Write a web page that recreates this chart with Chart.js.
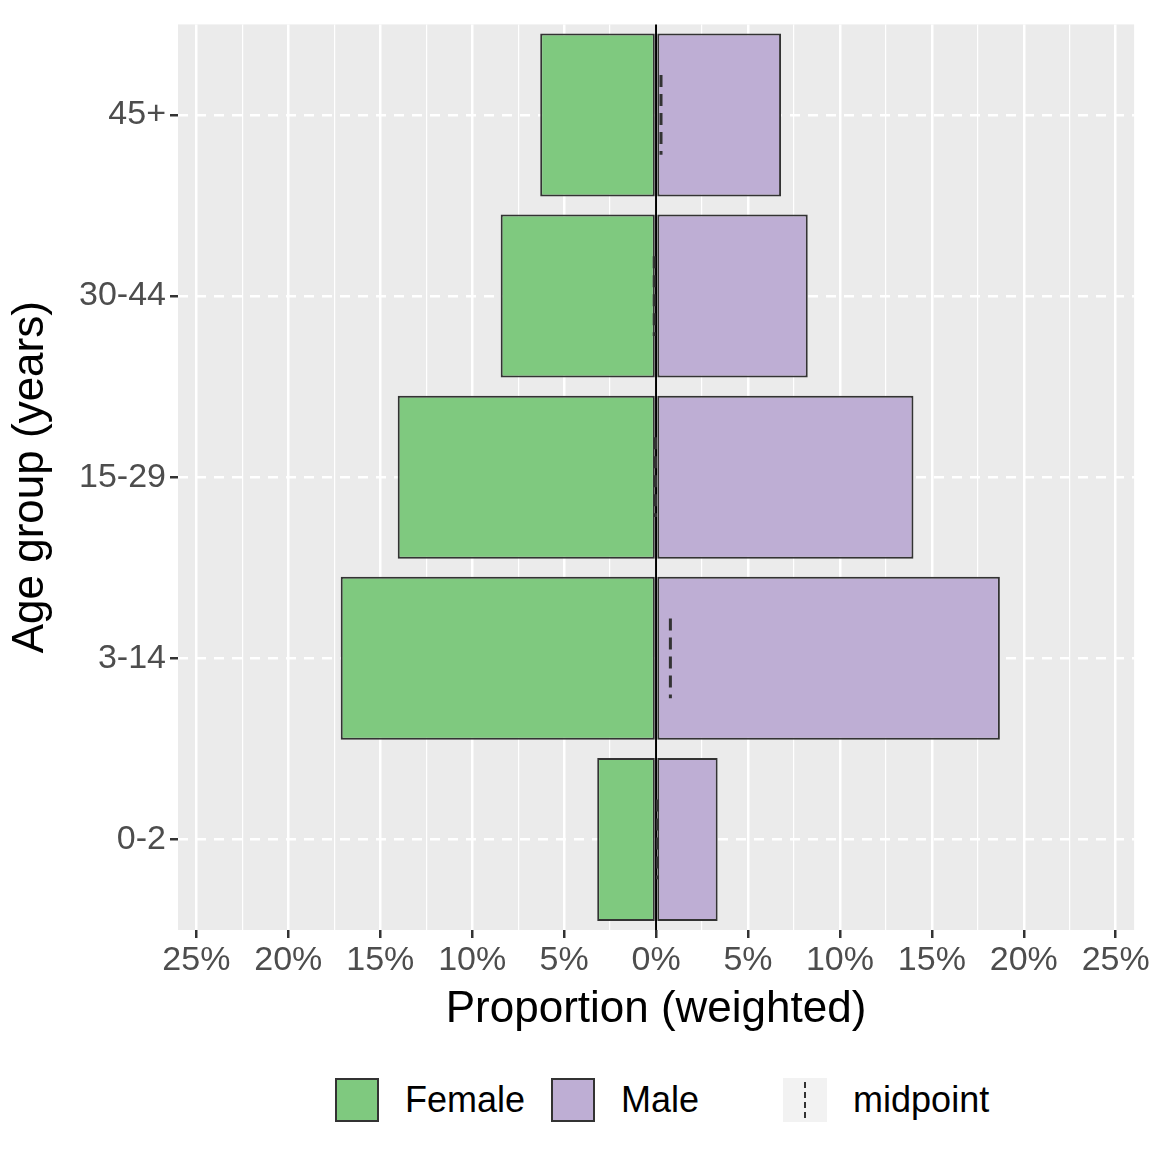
<!DOCTYPE html>
<html>
<head>
<meta charset="utf-8">
<script src="https://cdn.jsdelivr.net/npm/chart.js@4"></script>
<style>
  body { margin:0; background:#fff; font-family: Arial, "Liberation Sans", sans-serif; }
  #wrap { width:1152px; height:1040px; position:relative; }
  #legend { display:flex; align-items:center; justify-content:flex-start; height:120px; font-size:36px; color:#000; padding-left:335px; }
  .key { width:44px; height:44px; border:2px solid #333; box-sizing:border-box; margin-right:26px; }
  .item { display:flex; align-items:center; margin-right:26px; }
</style>
</head>
<body>
<div id="wrap"><canvas id="pyramid"></canvas></div>
<div id="legend">
  <div class="item"><div class="key" style="background:#7FC97F"></div>Female</div>
  <div class="item" style="margin-right:84px"><div class="key" style="background:#BEAED4"></div>Male</div>
  <div class="item"><div class="key" style="background:#F2F2F2;border:none;position:relative">
    <div style="position:absolute;left:21px;top:4px;height:36px;border-left:2px dashed #333"></div></div>midpoint</div>
</div>
<script>
// age groups, bottom to top
var age_groups   = ['45+', '30-44', '15-29', '3-14', '0-2'];
var female_share = [6.3, 8.45, 14.05, 17.15, 3.2];   // % (drawn to the left)
var male_share   = [6.8, 8.25, 14.0, 18.7, 3.35];    // %
var midpoint     = [0.27, -0.1, -0.03, 0.78, 0.08];  // %

var female_neg = female_share.map(function (v) { return -v; });

// midpoint dashes + zero line
var midpointPlugin = {
    id: 'midpointPlugin',
    afterDatasetsDraw: function (chart) {
        var ctx = chart.ctx;
        var xs = chart.scales.x, ys = chart.scales.y;
        var area = chart.chartArea;
        ctx.save();
        ctx.strokeStyle = '#000';
        ctx.lineWidth = 2;
        ctx.beginPath();
        ctx.moveTo(xs.getPixelForValue(0), area.top);
        ctx.lineTo(xs.getPixelForValue(0), area.bottom);
        ctx.stroke();
        var band = Math.abs(ys.getPixelForValue(1) - ys.getPixelForValue(0));
        ctx.strokeStyle = '#333';
        ctx.lineWidth = 3;
        ctx.setLineDash([12, 7]);
        for (var i = 0; i < midpoint.length; i++) {
            var px = xs.getPixelForValue(midpoint[i]);
            var py = ys.getPixelForValue(i);
            ctx.beginPath();
            ctx.moveTo(px, py - band * 0.22);
            ctx.lineTo(px, py + band * 0.22);
            ctx.stroke();
        }
        ctx.restore();
    }
};

var bgPlugin = {
    id: 'bgPlugin',
    beforeDraw: function (chart) {
        var a = chart.chartArea;
        chart.ctx.save();
        chart.ctx.fillStyle = '#EBEBEB';
        chart.ctx.fillRect(a.left, a.top, a.right - a.left, a.bottom - a.top);
        chart.ctx.restore();
    }
};

var ctx = document.getElementById('pyramid').getContext('2d');
var myChart = new Chart(ctx, {
    type: 'bar',
    data: {
        labels: age_groups,
        datasets: [{
            label: 'Female',
            data: female_neg,
            backgroundColor: '#7FC97F',
            borderColor: '#333333',
            borderWidth: 2,
            borderSkipped: false
        }, {
            label: 'Male',
            data: male_share,
            backgroundColor: '#BEAED4',
            borderColor: '#333333',
            borderWidth: 2,
            borderSkipped: false
        }]
    },
    options: {
        indexAxis: 'y',
        responsive: true,
        maintainAspectRatio: false,
        animation: false,
        barPercentage: 0.9,
        categoryPercentage: 1,
        layout: { padding: { top: 2, right: 14 } },
        plugins: { legend: { display: false }, tooltip: { enabled: false } },
        scales: {
            x: {
                stacked: true,
                min: -26, max: 26,
                afterBuildTicks: function (axis) {
                    var t = [];
                    for (var v = -25; v <= 25; v += 2.5) t.push({ value: v });
                    axis.ticks = t;
                },
                afterFit: function (axis) { axis.height = 110; },
                ticks: {
                    autoSkip: false, maxRotation: 0,
                    color: '#4D4D4D',
                    font: { size: 34, family: 'Arial' },
                    padding: 2,
                    callback: function (v) {
                        return (v % 5 === 0) ? Math.abs(v) + '%' : '';
                    }
                },
                grid: {
                    color: '#FFFFFF',
                    lineWidth: function (c) { return (c.tick && c.tick.value % 5 === 0) ? 2.5 : 1.2; },
                    tickColor: function (c) { return (c.tick && c.tick.value % 5 === 0) ? '#333' : 'rgba(0,0,0,0)'; },
                    tickLength: 8
                },
                border: { display: false },
                title: {
                    display: true, text: 'Proportion (weighted)',
                    color: '#000', font: { size: 44, family: 'Arial' }, padding: { top: 0 }
                }
            },
            y: {
                stacked: true,
                afterFit: function (axis) { axis.width = 178; },
                ticks: {
                    color: '#4D4D4D',
                    font: { size: 34, family: 'Arial' },
                    padding: 4
                },
                grid: {
                    offset: false,
                    color: '#FFFFFF',
                    lineWidth: 2.5,
                    tickColor: '#333',
                    tickLength: 8
                },
                border: { display: false, dash: [10, 8] },
                title: {
                    display: true, text: 'Age group (years)',
                    color: '#000', font: { size: 44, family: 'Arial' }, padding: { bottom: 0 }
                }
            }
        }
    },
    plugins: [bgPlugin, midpointPlugin]
});
</script>
</body>
</html>
